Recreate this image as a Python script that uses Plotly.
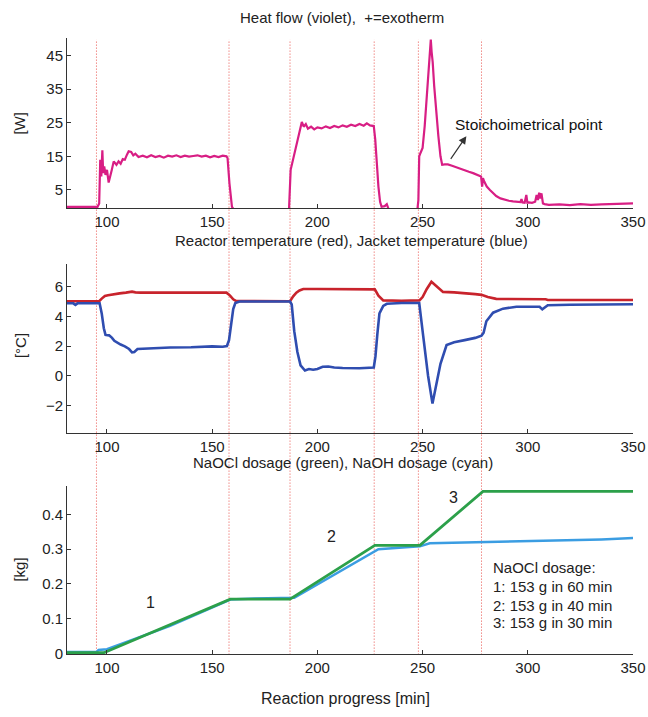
import plotly.graph_objects as go

# ---------------- data ----------------
hf_time = [80, 95.5, 96.3, 96.8, 97.3, 97.8, 98.2, 98.7, 99.3, 100.0, 100.8, 101.5, 102.3, 103.2, 104.5,
           105.5, 106.5, 107.5, 108.5, 109.5, 110.3, 111.5, 112.5, 113.5, 115, 117, 119, 121, 123, 125,
           127, 129, 131, 133, 135, 137, 139, 141, 143, 145, 147, 149, 151, 153, 155, 156.8, 157.3,
           158.2, 159.4, 160.5, 170, 180, 186.5, 187.3, 188, 189, 190, 191, 192, 192.6, 193.5, 194.5,
           195.5, 197, 198.5, 200, 202, 204, 206, 208, 210, 212, 214, 216, 218, 220, 222, 223.5, 225,
           226.8, 227.5, 228.3, 229, 229.8, 230.5, 232, 233, 234, 240, 247.5, 248, 248.4, 249, 250,
           251, 252, 252.8, 253.5, 253.9, 254.3, 254.8, 255.5, 256.5, 257.5, 258.5, 259.3, 260.5, 262,
           264, 266, 268, 270, 272, 274, 276, 277.8, 278.3, 278.7, 279.3, 280.5, 282, 283.5, 285, 287,
           289, 291, 293, 295, 296.5, 297, 297.5, 298.5, 299.3, 299.8, 300.5, 302, 303.5, 304.2, 304.8,
           305.4, 306, 306.5, 307.2, 308, 310, 315, 320, 325, 330, 335, 340, 345, 350]
hf_watts = [0, 0, 1, 14, 9, 16.8, 10, 12, 9.5, 11, 7.2, 9.5, 11, 13.5, 12.5,
            13.5, 12.8, 14.2, 14, 15.5, 16.5, 16.3, 15.3, 15.8, 14.8, 15.2, 14.7, 15.3, 14.8, 15.1,
            14.6, 15.2, 14.9, 15.3, 14.8, 15.2, 14.9, 15.1, 15.3, 14.9, 15.2, 14.7, 15.1, 14.8, 15.2, 15, 14.5,
            7, 0, -1, -1, -1, -1, 11, 13, 15, 18, 21, 24, 25.2, 23.8, 24.6,
            23.2, 23.8, 23, 23.6, 23.3, 23.9, 23.4, 24, 23.6, 24.2, 23.8, 24.4, 24, 24.6, 24.1, 24.8, 24.2,
            24, 20, 12, 6, 1.5, 0, 0.2, 0.8, -1, -1, -1, 2, 15, 16, 17.5,
            24, 33, 42, 47, 49.7, 46, 43, 36, 28, 21, 15, 12.5, 12.6, 12.6,
            12.2, 11.7, 11.3, 10.9, 10.4, 10, 9.5, 9, 6, 8.5, 7.5, 6, 5, 4, 3.2, 2.5,
            2.1, 1.8, 1.6, 1.5, 1.4, 2.3, 1.3, 1.2, 3.5, 1.2, 1.3, 1.2, 1.5, 3.5, 2,
            4.2, 2.5, 4, 1, 0.8, 0.6, 0.7, 0.5, 0.8, 0.6, 0.7, 0.8, 0.7, 1]

reactor_time = [80, 96.3, 97.5, 99, 100.5, 103, 106, 109, 111.9, 113.5, 116, 130, 145, 156.8, 158.5,
                160, 161.5, 170, 187, 188.5, 190, 191.5, 193.3, 200, 210, 220, 227.3, 229, 231.3, 240,
                248.5, 250, 252, 254.2, 256, 258, 259.7, 265, 270, 275, 278, 281, 285, 295, 308.5, 309.5, 350]
reactor_temp = [5.02, 5.02, 5.2, 5.38, 5.42, 5.5, 5.55, 5.6, 5.67, 5.62, 5.6, 5.6, 5.6, 5.6, 5.4,
                5.15, 5.03, 5.02, 5.02, 5.35, 5.6, 5.75, 5.85, 5.85, 5.85, 5.85, 5.82, 5.4, 5.08, 5.05,
                5.08, 5.3, 5.85, 6.33, 6.1, 5.8, 5.65, 5.62, 5.58, 5.5, 5.45, 5.3, 5.18, 5.17, 5.15, 5.1, 5.1]

jacket_time = [80, 84, 85, 86, 96.5, 97.5, 98.5, 99.3, 101, 102.4, 103.5, 104.8, 106.5, 108.5, 110.5,
               111.9, 113, 114.5, 120, 130, 140, 150, 155, 157, 158, 159, 160, 161, 163, 187,
               187.8, 189, 190.5, 192, 194.1, 196, 198, 200, 202.5, 205.2, 208, 212, 220, 226.8, 227.6,
               228.5, 229.5, 231.3, 233, 240, 248.4, 250.3, 252.6, 254.7, 256.6, 258.5, 261.4, 265, 270, 275,
               278, 279, 280.3, 283.5, 288.2, 294.6, 300, 305.6, 306.9, 308, 309.5, 320, 350]
jacket_temp = [4.88, 4.88, 4.78, 4.88, 4.88, 4.2, 3.2, 2.75, 2.72, 2.55, 2.35, 2.22, 2.1, 1.98, 1.8,
               1.58, 1.6, 1.8, 1.85, 1.9, 1.92, 1.98, 1.95, 2.0, 2.4, 3.6, 4.5, 4.9, 5.0, 5.0,
               4.8, 3.0, 1.6, 0.7, 0.35, 0.45, 0.4, 0.45, 0.6, 0.62, 0.55, 0.52, 0.5, 0.55, 1.3,
               2.8, 4.2, 4.7, 4.85, 4.9, 4.9, 2.67, 0.0, -1.88, -0.44, 0.8, 2.07, 2.25, 2.4, 2.55,
               2.7, 2.9, 3.67, 4.25, 4.52, 4.65, 4.65, 4.65, 4.47, 4.6, 4.75, 4.78, 4.82]

naocl_time = [80, 98.5, 158.6, 187, 227.3, 248.7, 278.7, 350]
naocl_kg = [0.002, 0.002, 0.156, 0.156, 0.311, 0.311, 0.466, 0.466]

naoh_time = [80, 95, 96, 100, 130, 158.6, 170, 189, 229, 240, 248.7, 253.4, 260, 280, 300, 320, 335, 350]
naoh_kg = [0.004, 0.004, 0.01, 0.012, 0.079, 0.155, 0.158, 0.16, 0.30, 0.305, 0.308, 0.317, 0.318,
           0.32, 0.322, 0.326, 0.328, 0.332]

phase_marks = [95, 158, 187, 227, 248, 278]

x_ticks = [100, 150, 200, 250, 300, 350]
hf_ticks = [5, 15, 25, 35, 45]
temp_ticks = [-2, 0, 2, 4, 6]
kg_ticks = [0, 0.1, 0.2, 0.3, 0.4]
kg_tick_text = ["0", "0.1", "0.2", "0.3", "0.4"]

dosage_text = ["NaOCl dosage:", "1: 153 g in 60 min", "2: 153 g in 40 min", "3: 153 g in 30 min"]

# ---------------- figure ----------------
FONT = "Liberation Sans, Arial, sans-serif"
W, H = 648, 717

fig = go.Figure()
fig.add_trace(go.Scatter(x=hf_time, y=hf_watts, mode="lines", line=dict(color="#d81e84", width=2.2),
                         xaxis="x", yaxis="y", showlegend=False))
fig.add_trace(go.Scatter(x=reactor_time, y=reactor_temp, mode="lines", line=dict(color="#c8232c", width=2.6),
                         xaxis="x2", yaxis="y2", showlegend=False))
fig.add_trace(go.Scatter(x=jacket_time, y=jacket_temp, mode="lines", line=dict(color="#2f4db0", width=2.6),
                         xaxis="x2", yaxis="y2", showlegend=False))
fig.add_trace(go.Scatter(x=naoh_time, y=naoh_kg, mode="lines", line=dict(color="#3b9de2", width=2.5),
                         xaxis="x3", yaxis="y3", showlegend=False))
fig.add_trace(go.Scatter(x=naocl_time, y=naocl_kg, mode="lines", line=dict(color="#2ca04a", width=2.8),
                         xaxis="x3", yaxis="y3", showlegend=False))

TICK_FONT = dict(family=FONT, size=15, color="#222")

def xax(anchor):
    return dict(range=[81, 350], domain=[0, 1], anchor=anchor, tickvals=x_ticks,
                showline=True, linecolor="#333", linewidth=1, ticks="inside", ticklen=4,
                tickcolor="#333", showgrid=False, zeroline=False, tickfont=TICK_FONT)

def yax(anchor, dom, rng, vals, text=None):
    d = dict(range=rng, domain=dom, anchor=anchor, tickvals=vals,
             showline=True, linecolor="#333", linewidth=1, ticks="inside", ticklen=4,
             tickcolor="#333", showgrid=False, zeroline=False, tickfont=TICK_FONT)
    if text is not None:
        d["ticktext"] = text
    return d

def py(p):
    return 1 - p / H

PL, PR = 67, 633
def px(p):
    return (p - PL) / (PR - PL)

top_dom = [py(210.5), py(38.3)]
mid_dom = [py(438), py(266.7)]
bot_dom = [py(661.5), py(491.7)]

def note(text, x, y, size=15, **kw):
    d = dict(text=text, x=x, y=y, xref="paper", yref="paper", xanchor="center", yanchor="middle",
             showarrow=False, font=dict(family=FONT, size=size, color="#222"))
    d.update(kw)
    return d

annotations = [
    note("Heat flow (violet),  +=exotherm", px(342), py(18)),
    note("Reactor temperature (red), Jacket temperature (blue)", px(351), py(243)),
    note("NaOCl dosage (green), NaOH dosage (cyan)", px(343), py(468)),
    note("Reaction progress [min]", px(345), py(706), size=16),
    note("[W]", px(20), py(125), textangle=-90),
    note("[°C]", px(20), py(350), textangle=-90),
    note("[kg]", px(20), py(576), textangle=-90),
    # stoichiometrical point
    dict(text="Stoichoimetrical point", x=264.5, y=24.4, xref="x", yref="y", xanchor="left",
         yanchor="middle", showarrow=False, font=dict(family=FONT, size=15.5, color="#111")),
    dict(text="", x=270.8, y=21.0, ax=262.9, ay=13.8, xref="x", yref="y", axref="x", ayref="y",
         showarrow=True, arrowhead=2, arrowsize=1.3, arrowwidth=1.2, arrowcolor="#333"),
]
for t, xx, yy in [("1", 120.6, 0.146), ("2", 206.8, 0.336), ("3", 264.5, 0.449)]:
    annotations.append(dict(text=t, x=xx, y=yy, xref="x3", yref="y3", xanchor="center", yanchor="middle",
                            showarrow=False, font=dict(family=FONT, size=16, color="#222")))
line_y = [575, 594, 612.5, 630.5]
for t, p in zip(dosage_text, line_y):
    annotations.append(dict(text=t, x=282.7, y=(661.5 - p) / 352, xref="x3", yref="y3", xanchor="left",
                            yanchor="middle", showarrow=False, font=dict(family=FONT, size=15, color="#222")))

shapes = [dict(type="line", xref="x", yref="paper", x0=m, x1=m, y0=py(662), y1=py(40),
               line=dict(color="#e8504a", width=1, dash="1px,2px"), layer="below") for m in phase_marks]

fig.update_layout(
    width=W, height=H,
    margin=dict(l=PL, r=W - PR, t=0, b=0),
    paper_bgcolor="white", plot_bgcolor="white",
    xaxis=xax("y"), yaxis=yax("x", top_dom, [-0.4, 50.2], hf_ticks),
    xaxis2=xax("y2"), yaxis2=yax("x2", mid_dom, [-3.87, 7.55], temp_ticks),
    xaxis3=xax("y3"), yaxis3=yax("x3", bot_dom, [-0.002, 0.481], kg_ticks, kg_tick_text),
    annotations=annotations, shapes=shapes,
)

fig.write_html("out.html", config={"displayModeBar": False},
               post_script="document.body.style.margin='0';document.body.style.overflow='hidden';")
